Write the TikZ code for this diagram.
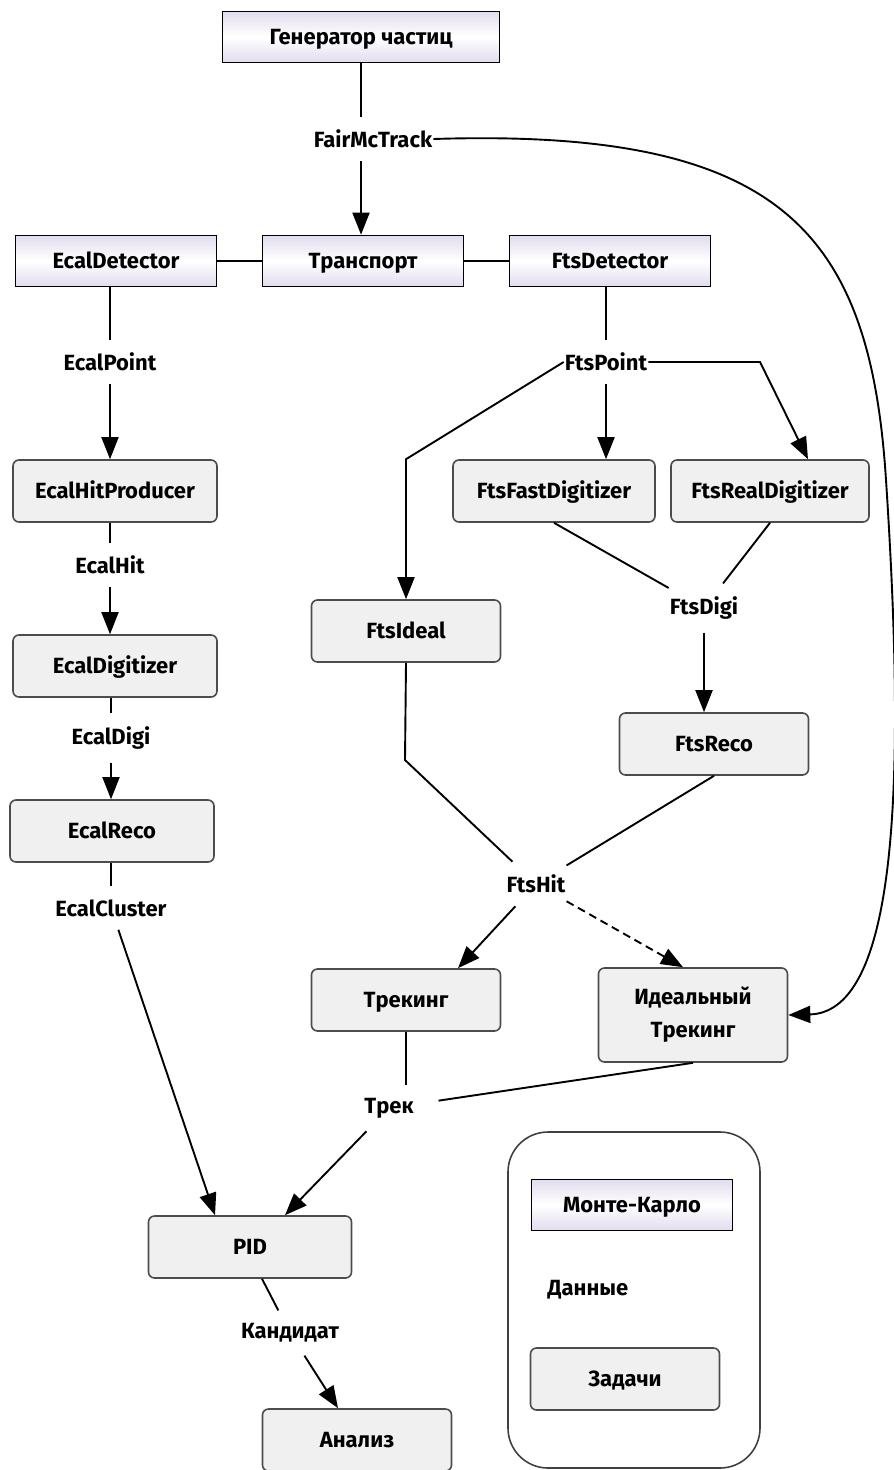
\documentclass[tikz,border=0pt]{standalone}
\usepackage{fontspec}
\setmainfont{Fira Sans}
\usetikzlibrary{arrows.meta}

\definecolor{mclav}{RGB}{226,220,238}
\definecolor{taskgray}{RGB}{240,240,240}

\begin{document}
\begin{tikzpicture}[
    x=1pt, y=-1pt,
    >={Triangle[length=22pt, width=17pt]},
    mcbox/.style = {draw=black, line width=1.6pt, top color=mclav,
                    bottom color=mclav, middle color=white,
                    minimum width=201pt, minimum height=51pt, inner sep=0pt,
                    text height=15pt, text depth=0pt},
    task/.style  = {draw=black!70, line width=1.6pt, rounded corners=6pt,
                    fill=taskgray, minimum width=189pt, minimum height=62pt,
                    inner sep=0pt, text height=15pt, text depth=0pt},
    flow/.style  = {inner xsep=1pt, inner ysep=13pt},
    link/.style  = {line width=1.9pt},
    feed/.style  = {link, ->},
    font=\fontsize{22}{33}\selectfont\bfseries,
  ]
  \useasboundingbox (0,0) rectangle (894,1470);

  % --- generator and transport ---------------------------------------------
  \node[mcbox, minimum width=277pt] (gen) at (361,37) {Генератор частиц};
  \node[flow] (fmc) at (373,139) {FairMcTrack};
  \node[mcbox] (ecaldet) at (116,261) {EcalDetector};
  \node[mcbox] (trans)   at (363,261) {Транспорт};
  \node[mcbox] (ftsdet)  at (610,261) {FtsDetector};

  % --- ecal branch -----------------------------------------------------------
  \node[flow] (epoint) at (110,362) {EcalPoint};
  \node[task, minimum width=204pt] (ehp) at (115,491) {EcalHitProducer};
  \node[flow] (ehit) at (110,565) {EcalHit};
  \node[task, minimum width=204pt] (edigitizer) at (115,666) {EcalDigitizer};
  \node[flow] (edigi) at (111,738) {EcalDigi};
  \node[task, minimum width=204pt] (ereco) at (112,831) {EcalReco};
  \node[flow] (eclu) at (111,908) {EcalCluster};

  % --- fts branch ------------------------------------------------------------
  \node[flow] (fpoint) at (606,362) {FtsPoint};
  \node[task, minimum width=202pt] (ffd) at (554,491) {FtsFastDigitizer};
  \node[task, minimum width=198pt] (frd) at (770,491) {FtsRealDigitizer};
  \node[flow] (fdigi) at (704,608) {FtsDigi};
  \node[task] (fideal) at (406,631) {FtsIdeal};
  \node[task] (freco) at (714,744) {FtsReco};
  \node[flow] (fhit) at (536,884) {FtsHit};

  % --- tracking and analysis -------------------------------------------------
  \node[task] (trk) at (406,1000) {Трекинг};
  \node[task, minimum height=94pt, align=center, text height=, text depth=]
    (itrk) at (693,1015) {Идеальный\\Трекинг};
  \node[flow] (trek) at (389,1108) {Трек};
  \node[task, minimum width=203pt] (pid) at (250,1247) {PID};
  \node[flow] (kand) at (290,1333) {Кандидат};
  \node[task] (ana) at (357,1440) {Анализ};

  % --- legend ----------------------------------------------------------------
  \draw[line width=1.6pt, black!75, rounded corners=40pt]
    (508,1132) rectangle (760,1468);
  \node[mcbox] (mc) at (632,1205) {Монте-Карло};
  \node (dat) at (588,1290) {Данные};
  \node[task] (zad) at (625,1379) {Задачи};

  % --- connectors ------------------------------------------------------------
  \coordinate (fpbend) at (760,362);
  \coordinate (idbend) at (405,760);

  \draw[link] (gen.south) -- (gen.south |- fmc.north);
  \draw[feed] (gen.south |- fmc.south) -- (gen.south |- trans.north);
  \draw[link] (ecaldet) -- (trans);
  \draw[link] (trans) -- (ftsdet);

  \draw[link] (ecaldet.south -| epoint) -- (epoint);
  \draw[feed] (epoint) -- (epoint |- ehp.north);
  \draw[link] (ehp.south -| ehit) -- (ehit);
  \draw[feed] (ehit) -- (ehit |- edigitizer.north);
  \draw[link] (edigitizer.south -| edigi) -- (edigi);
  \draw[feed] (edigi) -- (edigi |- ereco.north);
  \draw[link] (ereco.south -| eclu) -- (eclu);
  \draw[feed] (eclu) -- ([xshift=-35pt]pid.north);

  \draw[link] (ftsdet.south -| fpoint) -- (fpoint);
  \draw[feed] (fpoint) -- (fpoint |- ffd.north);
  \draw[feed] (fpoint.west) -- (fideal.north |- ffd.north) -- (fideal.north);
  \draw[feed] (fpoint.east) -- (fpbend) -- ([xshift=38pt]frd.north);
  \draw[link] (ffd.south) -- (fdigi);
  \draw[link] (frd.south) -- (fdigi);
  \draw[feed] (fdigi) -- (fdigi |- freco.north);
  \draw[link] (fideal.south) -- (idbend) -- (fhit);
  \draw[link] (freco.south) -- (fhit);

  \draw[feed] (fhit) -- ([xshift=52pt]trk.north);
  \draw[feed, dash pattern=on 8pt off 5pt] (fhit) -- ([xshift=-10pt]itrk.north);
  \draw[feed] (fmc.east) .. controls (780,128) and (870,230) .. (886,480)
    .. controls (905,770) and (900,1012) .. (itrk.east);

  \draw[link] (trk.south) -- (trk.south |- trek.north);
  \draw[link, shorten >=24pt] (itrk.south) -- (trek);
  \draw[feed] (trek) -- ([xshift=35pt]pid.north);
  \draw[link] ([xshift=12pt]pid.south) -- (kand);
  \draw[feed] (kand) -- ([xshift=-19pt]ana.north);

\end{tikzpicture}
\end{document}
